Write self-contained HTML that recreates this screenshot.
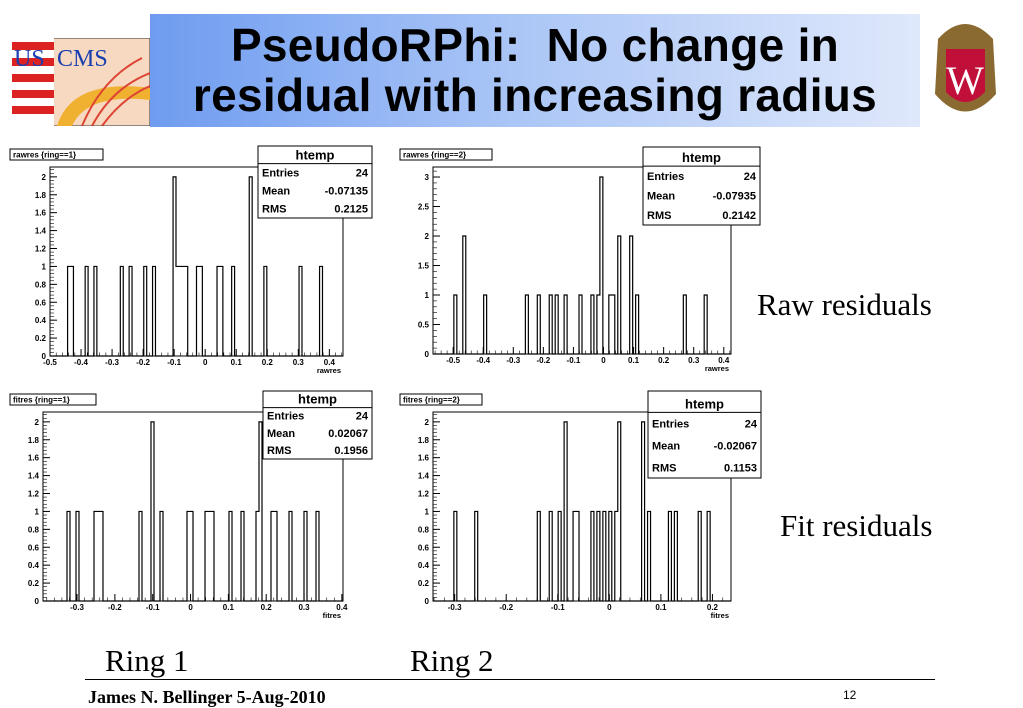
<!DOCTYPE html>
<html><head><meta charset="utf-8">
<style>
body{margin:0;width:1023px;height:708px;background:#fff;position:relative;overflow:hidden;font-family:"Liberation Sans",sans-serif}
.abs{position:absolute}
.title{left:150px;top:14px;width:770px;height:113px;background:linear-gradient(90deg,#6f9cf0 0%,#a8c4f6 45%,#dfe8fb 100%)}
.title div{font-weight:bold;font-size:46px;text-align:center;line-height:50px;color:#000;letter-spacing:0.3px;white-space:nowrap}
.serif{font-family:"Liberation Serif",serif}
</style></head><body>
<div class="abs title"><div style="margin-top:6px">PseudoRPhi:&nbsp; No change in</div><div>residual with increasing radius</div></div>
<svg class="abs" style="left:12px;top:38px" width="138" height="88">
<rect x="0" y="0" width="138" height="88" fill="#f6d9c0" stroke="#333"/>
<g fill="#d22">
<rect x="0" y="0" width="42" height="88" fill="#fff"/>
<rect x="0" y="4" width="42" height="8"/><rect x="0" y="20" width="42" height="8"/><rect x="0" y="36" width="42" height="8"/><rect x="0" y="52" width="42" height="8"/><rect x="0" y="68" width="42" height="8"/></g>
<path d="M45 88 Q60 40 138 50 L138 62 Q75 55 60 88Z" fill="#f0b030"/>
<path d="M70 88 Q90 40 130 20 M80 88 Q100 50 138 35 M90 88 Q110 60 138 48" stroke="#d43" stroke-width="2" fill="none"/>
<text x="2" y="28" font-family="Liberation Serif" font-size="24" fill="#1a3fb0">US</text>
<text x="45" y="28" font-family="Liberation Serif" font-size="24" fill="#1a3fb0">CMS</text>
</svg>
<svg class="abs" style="left:928px;top:14px" width="75" height="112">
<path d="M10 25 Q37 -5 65 25 L68 80 Q37 115 7 80Z" fill="#8a6a30"/>
<path d="M18 35 L57 35 L57 78 Q37 98 18 78Z" fill="#c0103a"/>
<text x="37" y="80" text-anchor="middle" font-family="Liberation Serif" font-size="40" fill="#fff">W</text>
</svg>
<svg id="charts" class="abs" style="left:0;top:0" width="1023" height="708"></svg>
<div class="abs serif" style="left:757px;top:287px;font-size:31px">Raw residuals</div>
<div class="abs serif" style="left:780px;top:508px;font-size:31px">Fit residuals</div>
<div class="abs serif" style="left:105px;top:643px;font-size:31px">Ring 1</div>
<div class="abs serif" style="left:410px;top:643px;font-size:31px">Ring 2</div>
<div class="abs" style="left:85px;top:679px;width:850px;height:1px;background:#000"></div>
<div class="abs serif" style="left:88px;top:687px;font-size:18px;font-weight:bold">James N. Bellinger 5-Aug-2010</div>
<div class="abs" style="left:843px;top:688px;font-size:12px">12</div>
<script>
// Panel 1: rawres ring==1
const p1Values=[-0.436,-0.426,-0.378,-0.351,-0.273,-0.236,-0.195,-0.167,-0.1,-0.09,-0.081,-0.071,-0.062,-0.023,-0.014,0.044,0.053,0.093,0.142,0.197,0.303,0.372];
const p1Counts=[1,1,1,1,1,1,1,1,2,1,1,1,1,1,1,1,1,1,2,1,1,1];
const p1XTicks=[-0.5,-0.4,-0.3,-0.2,-0.1,0,0.1,0.2,0.3,0.4];
const p1YTicks=[0,0.2,0.4,0.6,0.8,1,1.2,1.4,1.6,1.8,2];
const p1Stats=["24","-0.07135","0.2125"];
// Panel 2: rawres ring==2
const p2Values=[-0.494,-0.459,-0.389,-0.258,-0.216,-0.175,-0.156,-0.127,-0.077,-0.037,-0.018,-0.008,0.021,0.031,0.053,0.092,0.112,0.269,0.339];
const p2Counts=[1,2,1,1,1,1,1,1,1,1,1,3,1,1,2,2,1,1,1];
const p2XTicks=[-0.5,-0.4,-0.3,-0.2,-0.1,0,0.1,0.2,0.3,0.4];
const p2YTicks=[0,0.5,1,1.5,2,2.5,3];
const p2Stats=["24","-0.07935","0.2142"];
// Panel 3: fitres ring==1
const p3Values=[-0.32,-0.296,-0.25,-0.242,-0.234,-0.133,-0.1,-0.077,-0.004,0.004,0.041,0.054,0.062,0.106,0.138,0.177,0.186,0.22,0.228,0.263,0.303,0.334];
const p3Counts=[1,1,1,1,1,1,2,1,1,1,1,1,1,1,1,1,2,1,1,1,1,1];
const p3XTicks=[-0.3,-0.2,-0.1,0,0.1,0.2,0.3,0.4];
const p3YTicks=[0,0.2,0.4,0.6,0.8,1,1.2,1.4,1.6,1.8,2];
const p3Stats=["24","0.02067","0.1956"];
// Panel 4: fitres ring==2
const p4Values=[-0.3,-0.259,-0.137,-0.114,-0.097,-0.086,-0.065,-0.059,-0.034,-0.022,-0.01,0.001,0.013,0.019,0.065,0.077,0.118,0.129,0.174,0.193];
const p4Counts=[1,1,1,1,1,2,1,1,1,1,1,1,1,2,2,1,1,1,1,1];
const p4XTicks=[-0.3,-0.2,-0.1,0,0.1,0.2];
const p4YTicks=[0,0.2,0.4,0.6,0.8,1,1.2,1.4,1.6,1.8,2];
const p4Stats=["24","-0.02067","0.1153"];

const NS="http://www.w3.org/2000/svg";
const root=document.getElementById('charts');
function mk(tag,attrs,parent){const e=document.createElementNS(NS,tag);for(const k in attrs)e.setAttribute(k,attrs[k]);(parent||root).appendChild(e);return e;}
function txt(s,attrs,parent){const e=mk('text',attrs,parent);e.textContent=s;return e;}

function panel(id,title,xlabel,values,counts,xticks,yticks,stats,L,R,T,B,xmin,xmax,ymax,box,titleW){
  const g=mk('g',{});
  
  
  const sx=v=>L+(v-xmin)/(xmax-xmin)*(R-L);
  const sy=v=>B-v/ymax*(B-T);
  const fr=mk('rect',{x:L,y:T,width:R-L,height:B-T,fill:'none',stroke:'#000','stroke-width':1},g);
  
  
  const nb=100,w=(xmax-xmin)/nb,bins=new Array(nb).fill(0);
  values.forEach((v,i)=>{const k=Math.floor((v-xmin)/w);if(k>=0&&k<nb)bins[k]+=counts[i];});
  let d='M'+L+' '+B,prev=0;
  for(let k=0;k<nb;k++){const x0=sx(xmin+k*w);
    if(bins[k]!==prev){d+=' L'+x0.toFixed(2)+' '+sy(prev).toFixed(2)+' L'+x0.toFixed(2)+' '+sy(bins[k]).toFixed(2);}
    prev=bins[k];}
  d+=' L'+R+' '+sy(prev);
  const hp=mk('path',{d:d,fill:'none',stroke:'#000','stroke-width':1.2},g);
  
  
  yticks.forEach(t=>{const y=sy(t);mk('line',{x1:L,x2:L+7,y1:y,y2:y,stroke:'#000'},g);
    const lb=txt(String(t),{x:L-4,y:y+3,'font-size':8,'font-weight':'bold','text-anchor':'end'},g);
    
    });
  const ystep=(yticks[1]-yticks[0])/5;
  for(let v=0;v<=ymax;v+=ystep){const y=sy(v);mk('line',{x1:L,x2:L+4,y1:y,y2:y,stroke:'#000','stroke-width':0.6},g);}
  xticks.forEach(t=>{const x=sx(t);mk('line',{x1:x,x2:x,y1:B,y2:B-7,stroke:'#000'},g);
    const lb=txt(String(t),{x:x,y:B+9,'font-size':8,'font-weight':'bold','text-anchor':'middle'},g);
    
    });
  const xstep=(xticks[1]-xticks[0])/5;
  for(let v=xticks[0]-xstep*5;v<=xmax;v+=xstep){if(v<xmin)continue;const x=sx(v);mk('line',{x1:x,x2:x,y1:B,y2:B-3.5,stroke:'#000','stroke-width':0.6},g);}
  const xl=txt(xlabel,{x:R-2,y:B+17,'font-size':7.5,'font-weight':'bold','text-anchor':'end'},g);
  
  
  const tb=mk('rect',{x:title.x,y:T-18,width:titleW,height:11,fill:'#fff',stroke:'#000'},g);
  
  
  const tt=txt(title.s,{x:title.x+3,y:T-9.5,'font-size':8,'font-weight':'bold'},g);
  
  
  const [bx,by,bw,bh]=box;
  const sb=mk('rect',{x:bx,y:by,width:bw,height:bh,fill:'#fff',stroke:'#000'},g);
  
  
  const hh=bh*0.245;
  mk('line',{x1:bx,x2:bx+bw,y1:by+hh,y2:by+hh,stroke:'#000'},g);
  const ht=txt('htemp',{x:bx+bw/2,y:by+hh-4,'font-size':13,'font-weight':'bold','text-anchor':'middle'},g);
  
  
  const names=['Entries','Mean','RMS'];const rh=(bh-hh)/3;
  names.forEach((n,i)=>{const y=by+hh+rh*(i+0.7);
    const a=txt(n,{x:bx+4,y:y,'font-size':11,'font-weight':'bold'},g);
    
    
    const b=txt(stats[i],{x:bx+bw-4,y:y,'font-size':11,'font-weight':'bold','text-anchor':'end'},g);
    
    });
}
panel('histogram-rawres-ring1',{s:'rawres {ring==1}',x:10},'rawres',p1Values,p1Counts,p1XTicks,p1YTicks,p1Stats,50,343,167,356,-0.5,0.444,2.11,[258,146,114,72],93);
panel('histogram-rawres-ring2',{s:'rawres {ring==2}',x:400},'rawres',p2Values,p2Counts,p2XTicks,p2YTicks,p2Stats,433,731,167,354,-0.567,0.424,3.17,[643,147,117,78],92);
panel('histogram-fitres-ring1',{s:'fitres {ring==1}',x:10},'fitres',p3Values,p3Counts,p3XTicks,p3YTicks,p3Stats,43,343,412,601,-0.39,0.403,2.11,[263,391,109,68],86);
panel('histogram-fitres-ring2',{s:'fitres {ring==2}',x:400},'fitres',p4Values,p4Counts,p4XTicks,p4YTicks,p4Stats,433,731,412,601,-0.342,0.236,2.11,[648,391,113,87],82);
</script>
</body></html>
